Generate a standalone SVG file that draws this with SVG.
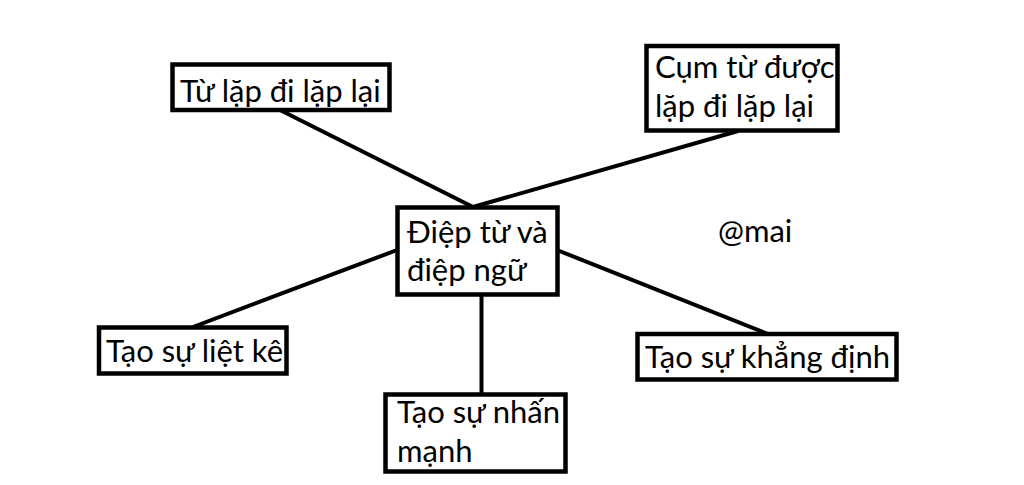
<svg xmlns="http://www.w3.org/2000/svg" width="1024" height="485" viewBox="0 0 1024 485">
<style>
.box{fill:#fff;stroke:#000;stroke-width:4.5}
.t{font-family:Lato,"Open Sans","Liberation Sans",sans-serif;font-size:31px;fill:#000}
.c line{stroke:#000;stroke-width:4}
</style>
<rect width="1024" height="485" fill="#fff"/>
<g id="connectors" class="c">
<line x1="280" y1="110" x2="473" y2="207"/>
<line x1="738" y1="131" x2="473" y2="207"/>
<line x1="397" y1="250" x2="193" y2="327"/>
<line x1="557" y1="250" x2="768" y2="334"/>
<line x1="481.5" y1="294.5" x2="481.5" y2="394.5"/>
</g>
<g id="n-tu-lap">
<rect class="box" x="172.5" y="64.5" width="217" height="45.5"/>
<text class="t" x="180" y="102">Từ lặp đi lặp lại</text>
</g>
<g id="n-cum-tu">
<rect class="box" x="646.5" y="46" width="191" height="84.5"/>
<text class="t" x="655" y="78">Cụm từ được</text>
<text class="t" x="655" y="117">lặp đi lặp lại</text>
</g>
<g id="n-center">
<rect class="box" x="397.5" y="207.5" width="160" height="87"/>
<text class="t" x="407" y="243">Điệp từ và</text>
<text class="t" x="407" y="281">điệp ngữ</text>
</g>
<g id="n-liet-ke">
<rect class="box" x="99" y="327.5" width="187.5" height="46"/>
<text class="t" x="106" y="362">Tạo sự liệt kê</text>
</g>
<g id="n-nhan-manh">
<rect class="box" x="385.5" y="394.5" width="180" height="77"/>
<text class="t" x="397" y="423">Tạo sự nhấn</text>
<text class="t" x="397" y="462">mạnh</text>
</g>
<g id="n-khang-dinh">
<rect class="box" x="637.5" y="334" width="259" height="45.5"/>
<text class="t" x="645" y="368">Tạo sự khẳng định</text>
</g>
<text class="t" x="718" y="242">@mai</text>
</svg>
